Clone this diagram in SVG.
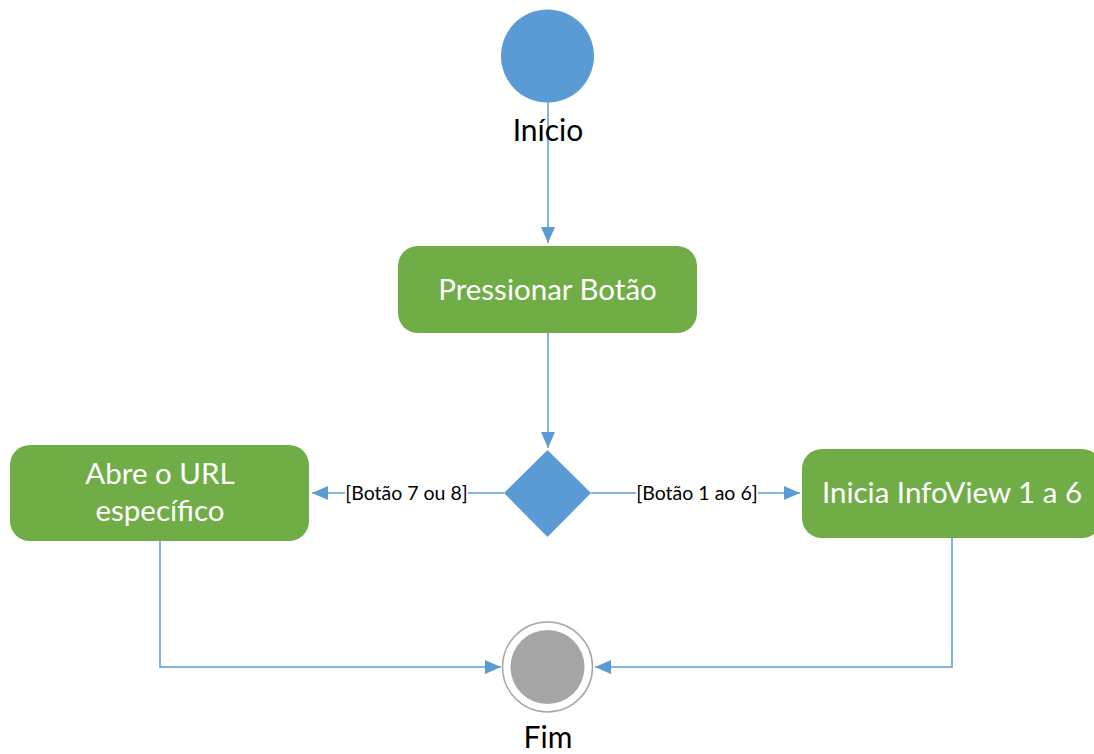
<svg xmlns="http://www.w3.org/2000/svg" width="1094" height="754" viewBox="0 0 1094 754">
<style>
.box{fill:#70AD47}
.btxt{font-family:Lato,"Open Sans",sans-serif;font-size:29.5px;fill:#fff;text-anchor:middle}
.lbl{font-family:Lato,"Open Sans",sans-serif;font-size:30px;fill:#000;text-anchor:middle}
.glbl{font-family:Lato,"Open Sans",sans-serif;font-size:19.5px;fill:#000;text-anchor:middle}
.conn{fill:none;stroke:#5B9BD5;stroke-width:1.5}
</style>
<defs>
<marker id="arrL" viewBox="0 0 16 14" refX="16" refY="7" markerWidth="16" markerHeight="14" markerUnits="userSpaceOnUse" orient="auto">
<path d="M0,0 L16,7 L0,14 z" fill="#5B9BD5"/>
</marker>
</defs>
<g id="connectors">
<path class="conn" d="M548,102 V243" marker-end="url(#arrL)"/>
<path class="conn" d="M548,333 V448" marker-end="url(#arrL)"/>
<path class="conn" d="M504,493 H312" marker-end="url(#arrL)"/>
<path class="conn" d="M591,493 H800" marker-end="url(#arrL)"/>
<path class="conn" d="M160,541 V667 H501" marker-end="url(#arrL)"/>
<path class="conn" d="M952,538 V667 H595" marker-end="url(#arrL)"/>
<rect x="345" y="480" width="123" height="26" fill="#fff"/>
<rect x="636" y="480" width="122" height="26" fill="#fff"/>
<text class="glbl" x="406.5" y="500">[Botão 7 ou 8]</text>
<text class="glbl" x="697" y="500">[Botão 1 ao 6]</text>
</g>
<g id="inicio">
<circle cx="547.5" cy="56" r="46.5" fill="#5B9BD5"/>
<text class="lbl" x="548" y="141">Início</text>
</g>
<g id="pressionar">
<rect class="box" x="398" y="246" width="299" height="87" rx="20"/>
<text class="btxt" x="547.5" y="300">Pressionar Botão</text>
</g>
<g id="decisao">
<path d="M547.5,450 L591,493 L547.5,537 L504,493 z" fill="#5B9BD5"/>
</g>
<g id="abre">
<rect class="box" x="10" y="445" width="299" height="96" rx="20"/>
<text class="btxt" x="160" y="484">Abre o URL</text>
<text class="btxt" x="160" y="521">específico</text>
</g>
<g id="inicia">
<rect class="box" x="802" y="449" width="300" height="89" rx="20"/>
<text class="btxt" x="952" y="503">Inicia InfoView 1 a 6</text>
</g>
<g id="fim">
<circle cx="547.5" cy="667" r="45" fill="#fff" stroke="#A5A5A5" stroke-width="1.5"/>
<circle cx="547.5" cy="667" r="37" fill="#A5A5A5"/>
<text class="lbl" x="548" y="748">Fim</text>
</g>
</svg>
